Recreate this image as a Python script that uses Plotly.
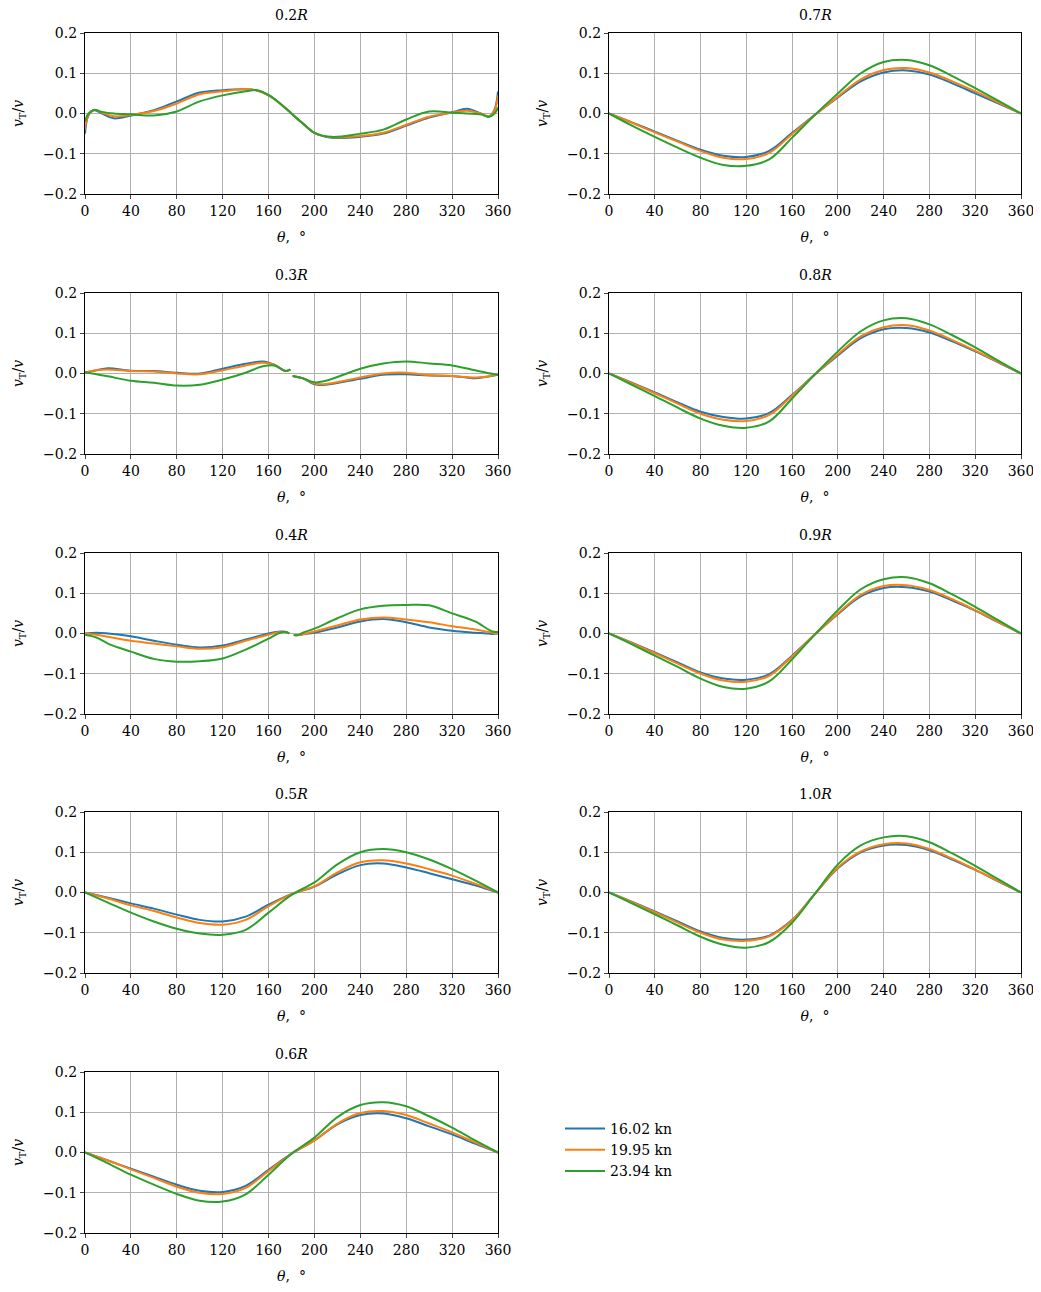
import plotly.graph_objects as go

W, H = 1041, 1292
OFF = 8  # page body margin
series_names = ["16.02 kn", "19.95 kn", "23.94 kn"]
colors = ["#1f77b4", "#ff7f0e", "#2ca02c"]

x_02 = [0,3,8,15,25,40,60,80,100,120,140,150,160,170,180,190,200,215,240,260,280,300,320,333,345,352,357,360]
r02_a = [-0.05,-0.005,0.008,0.0,-0.012,-0.005,0.008,0.03,0.052,0.058,0.06,0.057,0.045,0.025,0.0,-0.025,-0.048,-0.06,-0.058,-0.05,-0.03,-0.01,0.003,0.012,0.0,-0.008,0.01,0.055]
r02_b = [-0.04,-0.003,0.009,0.002,-0.007,-0.003,0.006,0.025,0.048,0.055,0.06,0.057,0.045,0.025,0.0,-0.025,-0.048,-0.059,-0.056,-0.048,-0.028,-0.008,0.002,0.007,0.0,-0.007,0.008,0.045]
r02_c = [-0.02,0.0,0.009,0.004,0.0,-0.002,-0.005,0.005,0.03,0.045,0.055,0.058,0.046,0.025,0.0,-0.025,-0.048,-0.058,-0.05,-0.04,-0.015,0.005,0.002,0.0,-0.002,-0.008,0.0,0.015]

x_03 = [0,10,20,40,60,80,100,120,140,155,165,175,179,180,181,190,200,210,240,260,280,300,320,340,350,360]
r03_a = [0.002,0.008,0.013,0.007,0.006,0.002,0.0,0.012,0.024,0.03,0.022,0.006,0.01,None,-0.006,-0.012,-0.027,-0.028,-0.013,-0.003,-0.002,-0.005,-0.006,-0.012,-0.008,-0.003]
r03_b = [0.002,0.008,0.01,0.006,0.005,0.0,-0.002,0.008,0.02,0.027,0.022,0.006,0.01,None,-0.006,-0.012,-0.025,-0.026,-0.01,0.0,0.002,-0.004,-0.006,-0.01,-0.008,-0.002]
r03_c = [0.003,-0.002,-0.007,-0.018,-0.023,-0.03,-0.028,-0.015,0.002,0.018,0.02,0.006,0.01,None,-0.006,-0.012,-0.022,-0.018,0.012,0.025,0.03,0.025,0.02,0.008,0.002,-0.003]

x_04 = [0,10,20,40,60,80,100,120,140,160,170,175,178,180,182,186,190,200,220,240,260,280,300,320,340,355,360]
r04_a = [0,0.002,0.0,-0.007,-0.018,-0.028,-0.035,-0.03,-0.015,0.0,0.005,0.004,0.0,None,-0.004,-0.004,-0.002,0.002,0.015,0.03,0.036,0.028,0.015,0.007,0.002,-0.001,0.0]
r04_b = [0,-0.003,-0.008,-0.018,-0.025,-0.032,-0.038,-0.034,-0.018,-0.003,0.004,0.004,0.0,None,-0.004,-0.004,-0.002,0.005,0.02,0.035,0.04,0.035,0.028,0.018,0.01,0.002,0.0]
r04_c = [-0.003,-0.01,-0.025,-0.045,-0.063,-0.07,-0.069,-0.062,-0.04,-0.013,0.002,0.004,0.0,None,-0.004,-0.004,0.002,0.012,0.038,0.06,0.069,0.071,0.07,0.05,0.03,0.005,0.004]

x_std = list(range(0, 361, 20))
r05_a = [0,-0.013,-0.027,-0.04,-0.055,-0.068,-0.072,-0.06,-0.03,-0.004,0.015,0.045,0.068,0.072,0.062,0.048,0.033,0.018,0]
r05_b = [0,-0.015,-0.032,-0.046,-0.062,-0.076,-0.08,-0.068,-0.034,-0.004,0.015,0.05,0.075,0.08,0.072,0.058,0.042,0.022,0]
r05_c = [0,-0.025,-0.05,-0.072,-0.09,-0.102,-0.105,-0.093,-0.05,-0.006,0.025,0.07,0.1,0.108,0.1,0.082,0.058,0.03,0]
r06_a = [0,-0.02,-0.04,-0.06,-0.08,-0.095,-0.098,-0.083,-0.043,-0.003,0.03,0.07,0.093,0.097,0.085,0.065,0.045,0.022,0]
r06_b = [0,-0.02,-0.042,-0.063,-0.085,-0.1,-0.103,-0.088,-0.046,-0.003,0.03,0.072,0.098,0.103,0.093,0.072,0.05,0.025,0]
r06_c = [0,-0.027,-0.055,-0.08,-0.103,-0.12,-0.122,-0.104,-0.055,-0.003,0.037,0.088,0.118,0.125,0.115,0.09,0.062,0.03,0]
r07_a = [0,-0.022,-0.045,-0.068,-0.09,-0.105,-0.108,-0.093,-0.048,-0.003,0.04,0.08,0.102,0.107,0.097,0.075,0.05,0.025,0]
r07_b = [0,-0.023,-0.047,-0.07,-0.093,-0.11,-0.113,-0.098,-0.051,-0.003,0.042,0.085,0.108,0.113,0.102,0.08,0.055,0.028,0]
r07_c = [0,-0.03,-0.058,-0.085,-0.11,-0.128,-0.13,-0.114,-0.06,-0.003,0.05,0.1,0.128,0.133,0.12,0.093,0.063,0.032,0]
r08_a = [0,-0.023,-0.047,-0.072,-0.095,-0.108,-0.112,-0.098,-0.053,-0.002,0.045,0.088,0.11,0.113,0.102,0.08,0.055,0.028,0]
r08_b = [0,-0.024,-0.049,-0.075,-0.1,-0.115,-0.118,-0.103,-0.055,-0.002,0.048,0.092,0.115,0.12,0.107,0.083,0.057,0.029,0]
r08_c = [0,-0.028,-0.056,-0.085,-0.112,-0.13,-0.135,-0.119,-0.062,-0.002,0.055,0.105,0.132,0.137,0.122,0.095,0.065,0.032,0]
r09_a = [0,-0.023,-0.047,-0.072,-0.097,-0.112,-0.115,-0.101,-0.055,-0.002,0.048,0.092,0.113,0.115,0.104,0.082,0.057,0.028,0]
r09_b = [0,-0.024,-0.049,-0.075,-0.1,-0.117,-0.12,-0.105,-0.057,-0.002,0.05,0.096,0.118,0.12,0.108,0.085,0.058,0.029,0]
r09_c = [0,-0.027,-0.055,-0.083,-0.112,-0.133,-0.137,-0.119,-0.064,-0.002,0.058,0.11,0.135,0.14,0.125,0.097,0.066,0.033,0]
r10_a = [0,-0.023,-0.047,-0.072,-0.097,-0.113,-0.117,-0.107,-0.068,-0.003,0.06,0.1,0.117,0.118,0.105,0.082,0.056,0.028,0]
r10_b = [0,-0.024,-0.049,-0.075,-0.1,-0.117,-0.12,-0.109,-0.069,-0.003,0.062,0.102,0.12,0.122,0.108,0.084,0.057,0.029,0]
r10_c = [0,-0.027,-0.054,-0.082,-0.11,-0.13,-0.137,-0.123,-0.075,-0.003,0.07,0.117,0.137,0.14,0.125,0.097,0.066,0.033,0]

panels = [
    ("0.2", x_02, [r02_a, r02_b, r02_c], 0, 0),
    ("0.3", x_03, [r03_a, r03_b, r03_c], 0, 1),
    ("0.4", x_04, [r04_a, r04_b, r04_c], 0, 2),
    ("0.5", x_std, [r05_a, r05_b, r05_c], 0, 3),
    ("0.6", x_std, [r06_a, r06_b, r06_c], 0, 4),
    ("0.7", x_std, [r07_a, r07_b, r07_c], 1, 0),
    ("0.8", x_std, [r08_a, r08_b, r08_c], 1, 1),
    ("0.9", x_std, [r09_a, r09_b, r09_c], 1, 2),
    ("1.0", x_std, [r10_a, r10_b, r10_c], 1, 3),
]

FONT = "DejaVu Serif"
col_px = [(85 - OFF, 498 - OFF), (609 - OFF, 1021 - OFF)]
row_top = [33 - OFF, 293 - OFF, 553 - OFF, 812 - OFF, 1072 - OFF]
ph = 161

fig = go.Figure()
layout = dict(width=W, height=H, margin=dict(l=0, r=0, t=0, b=0, autoexpand=False),
              plot_bgcolor="white", paper_bgcolor="white",
              font=dict(family=FONT, size=14, color="black"),
              showlegend=True,
              legend=dict(x=(560 - OFF)/W, y=1-(1113 - OFF)/H, xanchor="left", yanchor="top",
                          font=dict(size=14), tracegroupgap=0, itemwidth=40))
annotations = []
for i, (lab, xs, ys, c, r) in enumerate(panels):
    n = "" if i == 0 else str(i + 1)
    xa, ya = "xaxis" + n, "yaxis" + n
    x0, x1 = col_px[c]
    yt = row_top[r]
    layout[xa] = dict(domain=[x0/W, x1/W], anchor="y" + n, range=[0, 360], automargin=False,
                      tickvals=list(range(0, 361, 40)), showgrid=True, gridcolor="#b0b0b0",
                      gridwidth=1.2, showline=True, linecolor="black", linewidth=1.2, mirror=True,
                      ticks="outside", ticklen=4, zeroline=False,
                      title=dict(text="<i>θ</i>,  °", standoff=14, font=dict(size=14)))
    layout[ya] = dict(domain=[1-(yt+ph)/H, 1-yt/H], anchor="x" + n, range=[-0.2, 0.2], automargin=False,
                      tickvals=[-0.2, -0.1, 0, 0.1, 0.2], ticktext=["−0.2", "−0.1", "0.0", "0.1", "0.2"],
                      showgrid=True, gridcolor="#b0b0b0", gridwidth=1.2, showline=True,
                      linecolor="black", linewidth=1.2, mirror=True, ticks="outside", ticklen=4,
                      zeroline=False, title=dict(text="<i>v</i><sub>T</sub>/<i>v</i>", standoff=16, font=dict(size=14)))
    annotations.append(dict(text=f"{lab}<i>R</i>", x=(x0+x1)/2/W, y=1-(yt-18)/H, xref="paper", yref="paper",
                            showarrow=False, font=dict(size=14), xanchor="center", yanchor="middle"))
    for k in range(3):
        fig.add_trace(go.Scatter(x=xs, y=ys[k], mode="lines", name=series_names[k],
                                 line=dict(color=colors[k], width=2, shape="spline", smoothing=1.0),
                                 xaxis="x" + n, yaxis="y" + n, showlegend=(i == 0),
                                 connectgaps=False))
layout["annotations"] = annotations
fig.update_layout(**layout)
fig.write_html("out.html")
